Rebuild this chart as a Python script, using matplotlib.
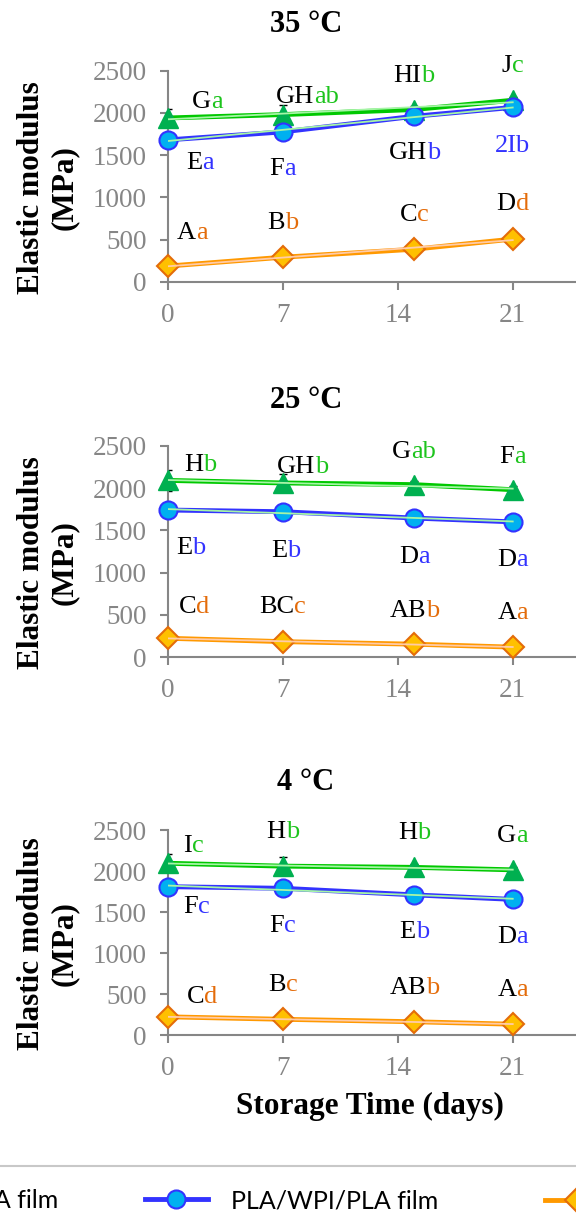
import numpy as np
import matplotlib
matplotlib.use('Agg')
import matplotlib.pyplot as plt
from matplotlib.lines import Line2D

plt.rcParams['font.family'] = ['Liberation Serif', 'DejaVu Serif']

# storage time (days) and storage temperatures
days  = [0, 7, 15, 21]
temps = ['35 °C', '25 °C', '4 °C']
names = ['PLA film', 'PLA/WPI/PLA film', 'PLA/WPI/PLA film (coated)']

# elastic modulus (MPa), one row per temperature
pla_mod = [[1940, 1980, 2040, 2150],
           [2090, 2060, 2040, 1980],
           [2095, 2060, 2045, 2015]]
wpi_mod = [[1680, 1775, 1960, 2065],
           [1740, 1720, 1645, 1600],
           [1810, 1790, 1710, 1655]]
coat_mod = [[185, 290, 385, 505],
            [225, 185, 155, 120],
            [225, 195, 165, 135]]
pla_err = [[110, 110, 40, 40],
           [120, 110, 40, 40],
           [110, 110, 40, 40]]

# significance letters (upper case part, lower case part)
pla_sig = [[('G', 'a'), ('GH', 'ab'), ('HI', 'b'), ('J', 'c')],
           [('H', 'b'), ('GH', 'b'), ('G', 'ab'), ('F', 'a')],
           [('I', 'c'), ('H', 'b'), ('H', 'b'), ('G', 'a')]]
wpi_sig = [[('E', 'a'), ('F', 'a'), ('GH', 'b'), ('', '2Ib')],
           [('E', 'b'), ('E', 'b'), ('D', 'a'), ('D', 'a')],
           [('F', 'c'), ('F', 'c'), ('E', 'b'), ('D', 'a')]]
coat_sig = [[('A', 'a'), ('B', 'b'), ('C', 'c'), ('D', 'd')],
            [('C', 'd'), ('BC', 'c'), ('AB', 'b'), ('A', 'a')],
            [('C', 'd'), ('B', 'c'), ('AB', 'b'), ('A', 'a')]]

# where the letters sit (day, MPa)
pla_pos = [[(2.4, 2135), (8.5, 2190), (15, 2435), (21, 2555)],
           [(2.0, 2270), (8.2, 2250), (15, 2430), (21, 2370)],
           [(1.55, 2305), (7, 2480), (15, 2465), (21, 2425)]]
wpi_pos = [[(1.95, 1410), (7, 1335), (15, 1520), (21, 1610)],
           [(1.4, 1290), (7.2, 1250), (15, 1190), (21, 1150)],
           [(1.75, 1560), (7, 1335), (15, 1255), (21, 1200)]]
coat_pos = [[(1.5, 580), (7, 700), (15, 790), (21, 915)],
            [(1.6, 600), (7, 590), (15, 550), (21, 520)],
            [(2.1, 470), (7, 612), (15, 572), (21, 552)]]

W, H = 576, 1231
fig = plt.figure(figsize=(W / 100, H / 100), dpi=100)
renderer = fig.canvas.get_renderer()

# panel frames in pixels: (top of axis, bottom of axis, title y)
frames = [(70.7, 281.7, 25), (445.7, 657.3, 401), (830, 1035.3, 782)]
x0_px, px_per_day = 167.7, 16.43

styles = [dict(color='#00C800', marker='^', mfc='#00B050', mec='#00B050', ms=14, mew=1),
          dict(color='#3333FF', marker='o', mfc='#00B0F0', mec='#3333FF', ms=13, mew=1.5),
          dict(color='#FF9900', marker='D', mfc='#FFC000', mec='#E46C0A', ms=11, mew=1.5)]
trend_cols = ['#A6F5A6', '#A6F5A6', '#FFCBA8']
sig_cols = ['#1DC41D', '#3333FF', '#E46C0A']
grey = '#868686'
sig_size = 19


def text_width(s, ax):
    if not s:
        return 0.0
    t = ax.text(0, 0, s, fontsize=sig_size)
    w = t.get_window_extent(renderer).width
    t.remove()
    return w


def sig_label(ax, x, y, up, low, col):
    # black group letters then coloured storage letters, centred on (x, y)
    half = text_width(up + low, ax) / 2 * 72 / 100
    kw = dict(textcoords='offset points', va='center', fontsize=sig_size,
              annotation_clip=False)
    if up:
        ax.annotate(up, (x, y), xytext=(-half, 0), ha='left', color='black', **kw)
    ax.annotate(low, (x, y), xytext=(half, 0), ha='right', color=col, **kw)


handles = []
for i, temp in enumerate(temps):
    top, bot, ty = frames[i]
    ax = fig.add_axes([x0_px / W, 1 - bot / H, 28 * px_per_day / W, (bot - top) / H])
    ax.set_xlim(0, 28)
    ax.set_ylim(0, 2500)
    ax.set_xticks([0, 7, 14, 21])
    ax.set_yticks(range(0, 2501, 500))
    for s in ['top', 'right']:
        ax.spines[s].set_visible(False)
    for s in ['left', 'bottom']:
        ax.spines[s].set_color(grey)
        ax.spines[s].set_linewidth(1.5)
    ax.tick_params(colors=grey, labelcolor=grey, labelsize=19.5, length=6, width=1.5, pad=9)

    series = [(pla_mod[i], pla_sig[i], pla_pos[i]),
              (wpi_mod[i], wpi_sig[i], wpi_pos[i]),
              (coat_mod[i], coat_sig[i], coat_pos[i])]
    for k, (vals, sig, pos) in enumerate(series):
        if k == 0:
            ax.errorbar(days, vals, yerr=pla_err[i], fmt='none', ecolor='black',
                        elinewidth=1, capsize=3, zorder=2)
        ln, = ax.plot(days, vals, lw=3.5, zorder=3, clip_on=False, **styles[k])
        if i == 0:
            handles.append(ln)
        # linear trend drawn over the series
        a, b = np.polyfit(days, vals, 1)
        tx = np.array([days[0], days[-1]])
        ax.plot(tx, a * tx + b, color=trend_cols[k], lw=1.3, zorder=4)
        for (up, low), (px, py) in zip(sig, pos):
            sig_label(ax, px, py, up, low, sig_cols[k])

    fig.text(305.7 / W, 1 - ty / H, temp, ha='center', va='center',
             fontsize=22, fontweight='bold')
    fig.text(48 / W, 1 - ((top + bot) / 2 + 11) / H, 'Elastic modulus\n(MPa)',
             rotation=90, ha='center', va='center', multialignment='center',
             fontsize=22.5, fontweight='bold', linespacing=1.15)

fig.text(370 / W, 1 - 1106 / H, 'Storage Time (days)', ha='center', va='center',
         fontsize=22.5, fontweight='bold')

# legend strip under the panels
fig.add_artist(Line2D([0, 1], [1 - 1165.7 / H] * 2, transform=fig.transFigure,
                      color='#C8C8C8', lw=1.5))
leg_y = 1 - 1200.7 / H
leg_kw = dict(frameon=False, borderpad=0, borderaxespad=0, handlelength=2.5,
              handletextpad=0.95, numpoints=1,
              prop={'family': ['Lato', 'DejaVu Sans'], 'size': 18})
fig.legend([handles[0]], [names[0]], loc='center right',
           bbox_to_anchor=(58 / W, leg_y), **leg_kw)
fig.legend([handles[1]], [names[1]], loc='center left',
           bbox_to_anchor=(145 / W, leg_y), **leg_kw)
fig.legend([handles[2]], [names[2]], loc='center left',
           bbox_to_anchor=(545 / W, leg_y), **leg_kw)

fig.savefig('out.png', dpi=100)
